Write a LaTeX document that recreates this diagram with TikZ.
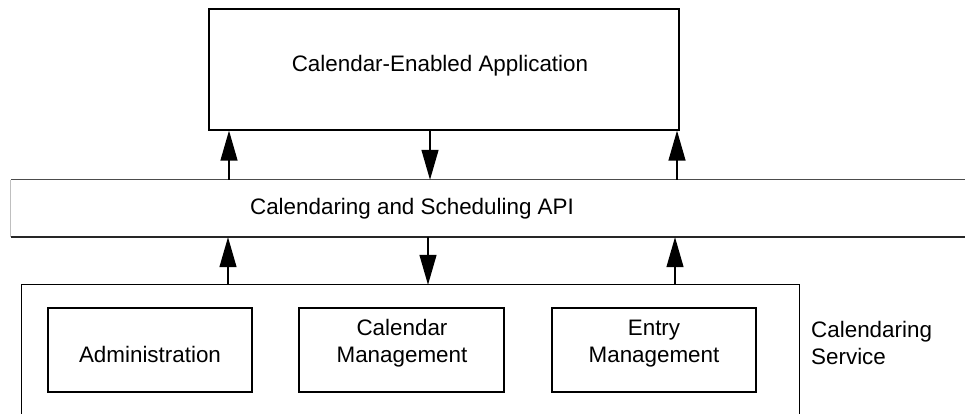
\documentclass[tikz,border=0pt]{standalone}
\usepackage{fontspec}
\setmainfont{Liberation Sans}
\usetikzlibrary{arrows.meta}
\begin{document}
\begin{tikzpicture}[x=1pt,y=-1pt,
  box/.style={draw, line width=1.3pt, inner sep=0pt},
  lbl/.style={font=\fontsize{22.4}{27}\selectfont, inner sep=0pt, align=center},
  arr/.style={line width=1.3pt, -{Triangle[length=30pt,width=17pt]}}]
\useasboundingbox (0,0) rectangle (965,414);
% top application box
\node[box, minimum width=470pt, minimum height=121pt] (app) at (444,69.5) {};
\node[lbl, anchor=base] (apptext) at (440,72) {Calendar-Enabled Application};
% API band
\node[inner sep=0pt, minimum width=960pt, minimum height=57pt] (api) at (491,208.5) {};
\draw[black!25, line width=0.8pt] (api.north west) -- (api.south west);
\draw[black!70, line width=1.2pt] (api.north west) -- (api.north east);
\draw[black!85, line width=1.6pt] (api.south west) -- (api.south east);
\node[lbl, anchor=base] (apitext) at (412,214) {Calendaring and Scheduling API};
% service box (open at bottom)
\node[inner sep=0pt, minimum width=777pt, minimum height=160pt] (svc) at (410.5,365) {};
\draw[line width=1.3pt] (svc.south west) -- (svc.north west) -- (svc.north east) -- (svc.south east);
\node[lbl, anchor=base west, align=left] (svctext) at (811,364) {Calendaring\\Service};
% inner boxes
\node[box, minimum width=204pt, minimum height=84pt] (admin) at (150,350) {};
\node[lbl, anchor=base] (admintext) at (150,362) {Administration};
\node[box, minimum width=205pt, minimum height=84pt] (calm) at (401.5,350) {};
\node[lbl, anchor=base] (calmtext) at (402,362) {Calendar\\Management};
\node[box, minimum width=204pt, minimum height=84pt] (entry) at (654,350) {};
\node[lbl, anchor=base] (entrytext) at (654,362) {Entry\\Management};
% arrows between app and API
\draw[arr] (api.north -| 229,0) -- (app.south -| 229,0);
\draw[arr] (app.south -| 430,0) -- (api.north -| 430,0);
\draw[arr] (api.north -| 677,0) -- (app.south -| 677,0);
% arrows between API and service
\draw[arr] (svc.north -| 228,0) -- (api.south -| 228,0);
\draw[arr] (api.south -| 428,0) -- (svc.north -| 428,0);
\draw[arr] (svc.north -| 675,0) -- (api.south -| 675,0);
\end{tikzpicture}
\end{document}
